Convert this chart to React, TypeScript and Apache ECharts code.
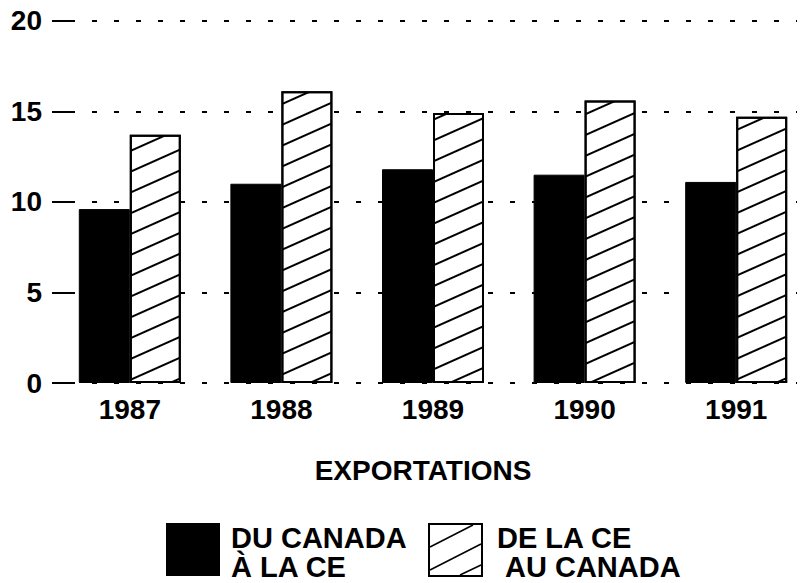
import React, { useEffect, useRef } from "react";
import * as echarts from "echarts";

const categories = ["1987", "1988", "1989", "1990", "1991"];
const duCanadaALaCE = [9.6, 11.0, 11.8, 11.5, 11.1];
const deLaCEAuCanada = [13.7, 16.1, 14.9, 15.6, 14.7];
const yTicks = { min: 0, max: 20, interval: 5 };

const FONT = "'Liberation Sans', Arial, Helvetica, sans-serif";

export default function App() {
  const ref = useRef<HTMLDivElement>(null);
  useEffect(() => {
    if (!ref.current) return;
    const chart = echarts.init(ref.current, undefined, { renderer: "svg" });
    const option: any = {
      animation: false,
      backgroundColor: "#ffffff",
      grid: [
        { left: 70, width: 727, top: 20.7, height: 362.3 },
        { left: 54, width: 771, top: 20.7, height: 362.3 },
      ],
      xAxis: [
        { type: "value", gridIndex: 0, show: false, min: 0, max: 1 },
        {
          type: "category",
          gridIndex: 1,
          data: categories,
          axisLine: { show: false },
          axisTick: { show: false },
          axisLabel: {
            color: "#000",
            fontFamily: FONT,
            fontWeight: "bold",
            fontSize: 28,
            margin: 12,
          },
        },
      ],
      yAxis: [
        {
          type: "value",
          gridIndex: 0,
          min: yTicks.min,
          max: yTicks.max,
          interval: yTicks.interval,
          axisLine: { show: false },
          axisTick: { show: true, length: 18, lineStyle: { color: "#000", width: 2 } },
          axisLabel: {
            color: "#000",
            fontFamily: FONT,
            fontWeight: "bold",
            fontSize: 28,
            margin: 28,
          },
          splitLine: {
            show: true,
            lineStyle: { color: "#000", width: 2, type: [5, 17] },
          },
        },
        { type: "value", gridIndex: 1, show: false, min: yTicks.min, max: yTicks.max },
      ],
      series: [
        {
          name: "DU CANADA À LA CE",
          type: "bar",
          xAxisIndex: 1,
          yAxisIndex: 1,
          data: duCanadaALaCE,
          barWidth: 51,
          barGap: "0%",
          itemStyle: { color: "#000", borderColor: "#000", borderWidth: 1 },
        },
        {
          name: "DE LA CE AU CANADA",
          type: "bar",
          xAxisIndex: 1,
          yAxisIndex: 1,
          data: deLaCEAuCanada,
          barWidth: 51,
          barGap: "0%",
          itemStyle: {
            color: "#fff",
            borderColor: "#000",
            borderWidth: 2,
            decal: {
              color: "#000",
              backgroundColor: "#fff",
              symbol: "rect",
              symbolSize: 1,
              dashArrayX: [1, 0],
              dashArrayY: [2, 17],
              rotation: -0.42,
            },
          },
        },
      ],
      graphic: [
        {
          type: "text",
          x: 423,
          y: 470,
          style: {
            text: "EXPORTATIONS",
            fill: "#000",
            font: `bold 28px ${FONT}`,
            align: "center",
            verticalAlign: "middle",
          },
        },
        {
          type: "rect",
          shape: { x: 166, y: 523, width: 54, height: 53 },
          style: { fill: "#000" },
        },
        {
          type: "rect",
          shape: { x: 429, y: 524, width: 53, height: 52 },
          style: { fill: "#fff", stroke: "#000", lineWidth: 2 },
        },
        { type: "line", shape: { x1: 430, y1: 547, x2: 473, y2: 525 }, style: { stroke: "#000", lineWidth: 1.5 } },
        { type: "line", shape: { x1: 430, y1: 570, x2: 481, y2: 544 }, style: { stroke: "#000", lineWidth: 1.5 } },
        { type: "line", shape: { x1: 460, y1: 575, x2: 481, y2: 565 }, style: { stroke: "#000", lineWidth: 1.5 } },
        {
          type: "text",
          x: 231,
          y: 538,
          style: { text: "DU CANADA", fill: "#000", font: `bold 29px ${FONT}`, verticalAlign: "middle" },
        },
        {
          type: "text",
          x: 231,
          y: 567,
          style: { text: "À LA CE", fill: "#000", font: `bold 29px ${FONT}`, verticalAlign: "middle" },
        },
        {
          type: "text",
          x: 497,
          y: 538,
          style: { text: "DE LA CE", fill: "#000", font: `bold 29px ${FONT}`, verticalAlign: "middle" },
        },
        {
          type: "text",
          x: 505,
          y: 567,
          style: { text: "AU CANADA", fill: "#000", font: `bold 29px ${FONT}`, verticalAlign: "middle" },
        },
      ],
    };
    chart.setOption(option);
    return () => chart.dispose();
  }, []);
  return (
    <div
      ref={ref}
      style={{ position: "absolute", left: 0, top: 0, width: 812, height: 583 }}
    />
  );
}
